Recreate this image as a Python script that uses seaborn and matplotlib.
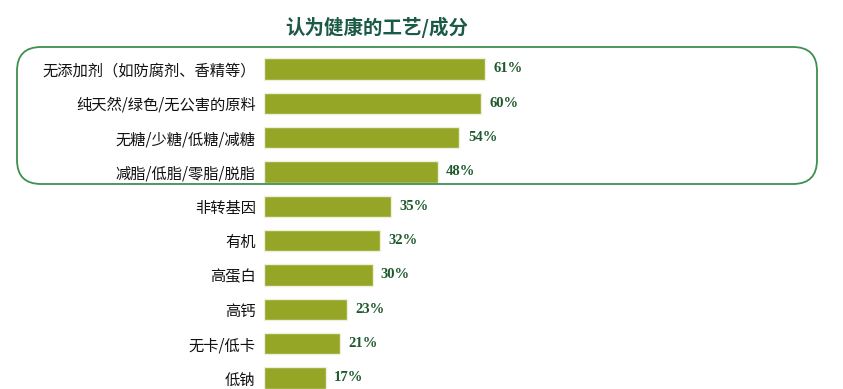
import matplotlib
matplotlib.use("Agg")
import matplotlib.pyplot as plt
import seaborn as sns
from matplotlib.patches import FancyBboxPatch
from matplotlib.transforms import IdentityTransform

categories = [
    "无添加剂（如防腐剂、香精等）",
    "纯天然/绿色/无公害的原料",
    "无糖/少糖/低糖/减糖",
    "减脂/低脂/零脂/脱脂",
    "非转基因",
    "有机",
    "高蛋白",
    "高钙",
    "无卡/低卡",
    "低钠",
]
values = [61, 60, 54, 48, 35, 32, 30, 23, 21, 17]
title = "认为健康的工艺/成分"

bar_color = "#95a526"
label_green = "#1e5a2c"
box_green = "#3f8f4f"

sns.set_theme(style="white")
plt.rcParams["font.family"] = ["Noto Sans CJK SC", "DejaVu Sans"]

W, H = 843, 389
fig = plt.figure(figsize=(W / 100, H / 100), dpi=100)

# axes placed in pixels: bar 0 centred at y=69, bar 9 at y=378
step = (378 - 69) / 9
top_px = 69 - step / 2
bot_px = 378 + step / 2
ax = fig.add_axes([264 / W, (H - bot_px) / H, 362 / W, (bot_px - top_px) / H])

sns.barplot(x=values, y=categories, orient="h", color=bar_color,
            width=0.62, edgecolor="#eef0dc", linewidth=1, saturation=1, ax=ax)
ax.set_xlim(0, 100)
ax.set_ylim(len(categories) - 0.5, -0.5)

for i, v in enumerate(values):
    ax.annotate(f"{v}%", xy=(v, i), xytext=(6, 0), textcoords="offset points",
                va="center", ha="left", fontsize=10.5, fontweight="bold",
                family="Liberation Serif", color=label_green)

ax.set_xlabel("")
ax.set_ylabel("")
ax.set_xticks([])
ax.tick_params(axis="y", length=0, pad=6, labelsize=11, labelcolor="#111111")
for s in ax.spines.values():
    s.set_visible(False)

fig.text(377 / W, 1 - 27 / H, title, ha="center", va="center",
         fontsize=14, fontweight="bold", color="#1b5a45")

# rounded frame around the top four items
box = FancyBboxPatch((17, H - 184), 800, 137,
                     boxstyle="round,pad=0,rounding_size=24",
                     transform=IdentityTransform(), fill=False,
                     edgecolor=box_green, linewidth=1.3)
fig.add_artist(box)

fig.savefig("out.png", dpi=100)
